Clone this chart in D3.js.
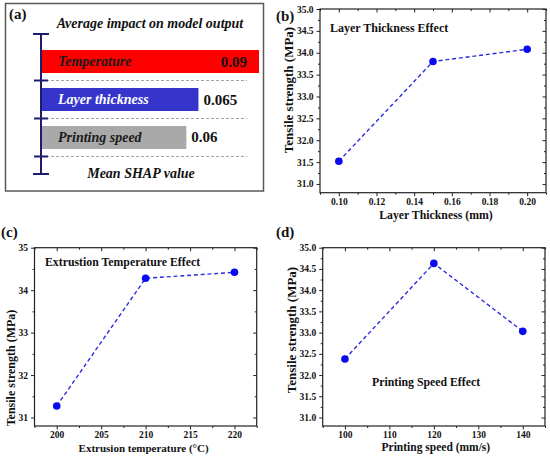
<!DOCTYPE html>
<html>
<head>
<meta charset="utf-8">
<script src="https://cdn.jsdelivr.net/npm/d3@7"></script>
<style>
  body { margin: 0; background: #fff; }
  svg { display: block; }
  text { font-family: "Liberation Serif", "Times New Roman", serif; font-weight: bold; fill: #111; }
</style>
</head>
<body>
<svg id="fig" width="550" height="457"></svg>
<script>
// (a) mean SHAP value per feature
const shapFeatures = ['Temperature', 'Layer thickness', 'Printing speed'];
const shapValues = [0.09, 0.065, 0.06];
const shapColors = ['#ff0000', '#3535cc', '#a9a9a9'];
const shapTextColors = ['#1a1a1a', '#ffffff', '#1a1a1a'];

// (b) layer thickness effect
const thicknessMm = [0.10, 0.15, 0.20];
const thicknessStrength = [31.52, 33.80, 34.08];
const thicknessTicks = [0.10, 0.12, 0.14, 0.16, 0.18, 0.20];

// (c) extrusion temperature effect
const tempC = [200, 210, 220];
const tempStrength = [31.27, 34.28, 34.42];
const tempTicks = [200, 205, 210, 215, 220];

// (d) printing speed effect
const speedMms = [100, 120, 140];
const speedStrength = [32.38, 34.63, 33.03];
const speedTicks = [100, 110, 120, 130, 140];

// y ticks (tensile strength, MPa)
const strengthTicksHalf = [31.0, 31.5, 32.0, 32.5, 33.0, 33.5, 34.0, 34.5, 35.0];
const strengthTicksInt = [31, 32, 33, 34, 35];

const serif = '"Liberation Serif", "Times New Roman", serif';
const svg = d3.select('#fig');
svg.append('rect').attr('width', 550).attr('height', 457).attr('fill', '#fff');

// ---------- panel (a) ----------
function drawShap() {
  const g = svg.append('g');
  g.append('rect')
    .attr('x', 5.5).attr('y', 3.5).attr('width', 258).attr('height', 187.5)
    .attr('fill', 'none').attr('stroke', '#5a5a5a').attr('stroke-width', 1.5);

  const x = d3.scaleLinear().domain([0, 0.09]).range([41, 259]);
  const y = d3.scaleBand().domain(shapFeatures).range([35, 164]).padding(0.395);
  const sepY = f => y(f) + y.bandwidth() + 7.5;

  // dashed separators
  g.selectAll('line.sep').data(shapFeatures).enter().append('line')
    .attr('x1', 41).attr('x2', 247)
    .attr('y1', sepY).attr('y2', sepY)
    .attr('stroke', '#8c8c8c').attr('stroke-width', 0.8).attr('stroke-dasharray', '3,2');

  // bars
  g.selectAll('rect.bar').data(shapFeatures).enter().append('rect')
    .attr('x', x(0)).attr('y', f => y(f))
    .attr('width', (f, i) => x(shapValues[i]) - x(0))
    .attr('height', y.bandwidth())
    .attr('fill', (f, i) => shapColors[i]);

  // axis line with caps and ticks
  const axisCol = '#1d1d6e';
  g.append('line').attr('x1', 41).attr('x2', 41).attr('y1', 34).attr('y2', 174)
    .attr('stroke', axisCol).attr('stroke-width', 2);
  [34, 174].forEach(v => g.append('line').attr('x1', 33).attr('x2', 49).attr('y1', v).attr('y2', v)
    .attr('stroke', axisCol).attr('stroke-width', 2));
  g.selectAll('line.tk').data(shapFeatures).enter().append('line')
    .attr('x1', 34).attr('x2', 48).attr('y1', sepY).attr('y2', sepY)
    .attr('stroke', axisCol).attr('stroke-width', 2);

  // feature names inside bars
  g.selectAll('text.name').data(shapFeatures).enter().append('text')
    .attr('x', 58).attr('y', f => y(f) + y.bandwidth() / 2 + 4.8)
    .attr('font-size', 14).attr('font-style', 'italic')
    .style('fill', (f, i) => shapTextColors[i])
    .text(f => f);

  // values
  const vmax = d3.max(shapValues);
  g.selectAll('text.val').data(shapFeatures).enter().append('text')
    .attr('x', (f, i) => shapValues[i] === vmax ? x(shapValues[i]) - 12 : x(shapValues[i]) + 5)
    .attr('y', f => y(f) + y.bandwidth() / 2 + 5)
    .attr('text-anchor', (f, i) => shapValues[i] === vmax ? 'end' : 'start')
    .attr('font-size', 15)
    .text((f, i) => String(shapValues[i]));

  g.append('text').attr('x', 150).attr('y', 28).attr('text-anchor', 'middle')
    .attr('font-size', 14).attr('font-style', 'italic').text('Average impact on model output');
  g.append('text').attr('x', 141).attr('y', 178).attr('text-anchor', 'middle')
    .attr('font-size', 14).attr('font-style', 'italic').text('Mean SHAP value');
  g.append('text').attr('x', 9).attr('y', 19).attr('font-size', 15).text('(a)');
}

// midpoints between majors, plus one extra half-step at each end if inside the domain
function minorTicks(major, domain) {
  const step = (major[1] - major[0]) / 2;
  const out = [];
  for (let v = major[0] - step; v <= domain[1] + 1e-9; v += step) {
    if (v >= domain[0] - 1e-9) out.push(+v.toFixed(6));
  }
  return out.filter(v => !major.some(m => Math.abs(m - v) < 1e-6));
}

// ---------- line panels (b)-(d) ----------
function linePanel(c) {
  const g = svg.append('g');
  const x = d3.scaleLinear().domain(c.xDomain).range([c.left, c.right]);
  const y = d3.scaleLinear().domain(c.yDomain).range([c.bottom, c.top]);
  const xMinor = minorTicks(c.xTicks, c.xDomain);
  const yMinor = minorTicks(c.yTicks, c.yDomain);
  const tickCol = '#222';

  const styleAxis = sel => {
    sel.select('.domain').remove();
    sel.attr('font-family', serif).attr('font-size', 9.5);
    sel.selectAll('line').attr('stroke', tickCol).attr('stroke-width', 1);
    sel.selectAll('text')
      .style('font-family', serif).style('font-weight', 'bold').style('fill', '#111');
  };

  // outward major/minor ticks with labels on bottom and left
  g.append('g').attr('transform', `translate(0,${c.bottom})`)
    .call(d3.axisBottom(x).tickValues(c.xTicks).tickFormat(c.xFmt).tickSize(3.5).tickPadding(2))
    .call(styleAxis);
  g.append('g').attr('transform', `translate(0,${c.bottom})`)
    .call(d3.axisBottom(x).tickValues(xMinor).tickFormat('').tickSize(2)).call(styleAxis);
  g.append('g').attr('transform', `translate(${c.left},0)`)
    .call(d3.axisLeft(y).tickValues(c.yTicks).tickFormat(c.yFmt).tickSize(3.5).tickPadding(3))
    .call(styleAxis);
  g.append('g').attr('transform', `translate(${c.left},0)`)
    .call(d3.axisLeft(y).tickValues(yMinor).tickFormat('').tickSize(2)).call(styleAxis);

  // inward ticks on top and right
  g.append('g').attr('transform', `translate(0,${c.top})`)
    .call(d3.axisTop(x).tickValues(c.xTicks).tickFormat('').tickSize(-3.5)).call(styleAxis);
  g.append('g').attr('transform', `translate(0,${c.top})`)
    .call(d3.axisTop(x).tickValues(xMinor).tickFormat('').tickSize(-2)).call(styleAxis);
  g.append('g').attr('transform', `translate(${c.right},0)`)
    .call(d3.axisRight(y).tickValues(c.yTicks).tickFormat('').tickSize(-3.5)).call(styleAxis);
  g.append('g').attr('transform', `translate(${c.right},0)`)
    .call(d3.axisRight(y).tickValues(yMinor).tickFormat('').tickSize(-2)).call(styleAxis);

  // frame
  g.append('rect')
    .attr('x', c.left).attr('y', c.top)
    .attr('width', c.right - c.left).attr('height', c.bottom - c.top)
    .attr('fill', 'none').attr('stroke', tickCol).attr('stroke-width', 1.2);

  const pts = c.xs.map((v, i) => [v, c.ys[i]]);
  g.append('path')
    .datum(pts)
    .attr('d', d3.line().x(d => x(d[0])).y(d => y(d[1])))
    .attr('fill', 'none').attr('stroke', '#2c2ce0').attr('stroke-width', 1.4)
    .attr('stroke-dasharray', '4,2.8');
  g.selectAll('circle').data(pts).enter().append('circle')
    .attr('cx', d => x(d[0])).attr('cy', d => y(d[1])).attr('r', 3.8)
    .attr('fill', '#0a0af0');

  // labels
  g.append('text')
    .attr('transform', `translate(${c.yLab[0]},${c.yLab[1]}) rotate(-90)`)
    .attr('text-anchor', 'middle').attr('font-size', c.yLab[2])
    .text('Tensile strength (MPa)');
  g.append('text')
    .attr('x', (c.left + c.right) / 2 + c.xLab[0]).attr('y', c.xLab[1])
    .attr('text-anchor', 'middle').attr('font-size', c.xLab[2])
    .text(c.xTitle);
  g.append('text')
    .attr('x', c.note[0]).attr('y', c.note[1]).attr('font-size', c.note[2])
    .text(c.noteText);
  g.append('text')
    .attr('x', c.tag[0]).attr('y', c.tag[1]).attr('font-size', 15)
    .text(c.tagText);
}

drawShap();

linePanel({
  left: 320, right: 546, top: 9, bottom: 192.7,
  xDomain: [0.09, 0.21], yDomain: [30.8, 35],
  xs: thicknessMm, ys: thicknessStrength,
  xTicks: thicknessTicks, yTicks: strengthTicksHalf,
  xFmt: d3.format('.2f'), yFmt: d3.format('.1f'),
  xTitle: 'Layer Thickness (mm)', xLab: [3, 218.5, 11.8],
  yLab: [293, 90, 13],
  noteText: 'Layer Thickness Effect', note: [330, 32, 12],
  tagText: '(b)', tag: [276, 21]
});

linePanel({
  left: 34.5, right: 256.7, top: 247.7, bottom: 426,
  xDomain: [197.5, 222.5], yDomain: [30.8, 35],
  xs: tempC, ys: tempStrength,
  xTicks: tempTicks, yTicks: strengthTicksInt,
  xFmt: d3.format('d'), yFmt: d3.format('d'),
  xTitle: 'Extrusion temperature (\u00B0C)', xLab: [-2, 451.5, 11],
  yLab: [15, 368, 12],
  noteText: 'Extrustion Temperature Effect', note: [45, 265.5, 11.8],
  tagText: '(c)', tag: [1, 237]
});

linePanel({
  left: 322.7, right: 545, top: 247.7, bottom: 426,
  xDomain: [95, 145], yDomain: [30.8, 35],
  xs: speedMms, ys: speedStrength,
  xTicks: speedTicks, yTicks: strengthTicksHalf,
  xFmt: d3.format('d'), yFmt: d3.format('.1f'),
  xTitle: 'Printing speed (mm/s)', xLab: [2, 450.5, 11.5],
  yLab: [296, 330, 13],
  noteText: 'Printing Speed Effect', note: [372, 385.5, 11.8],
  tagText: '(d)', tag: [276, 237]
});
</script>
</body>
</html>
